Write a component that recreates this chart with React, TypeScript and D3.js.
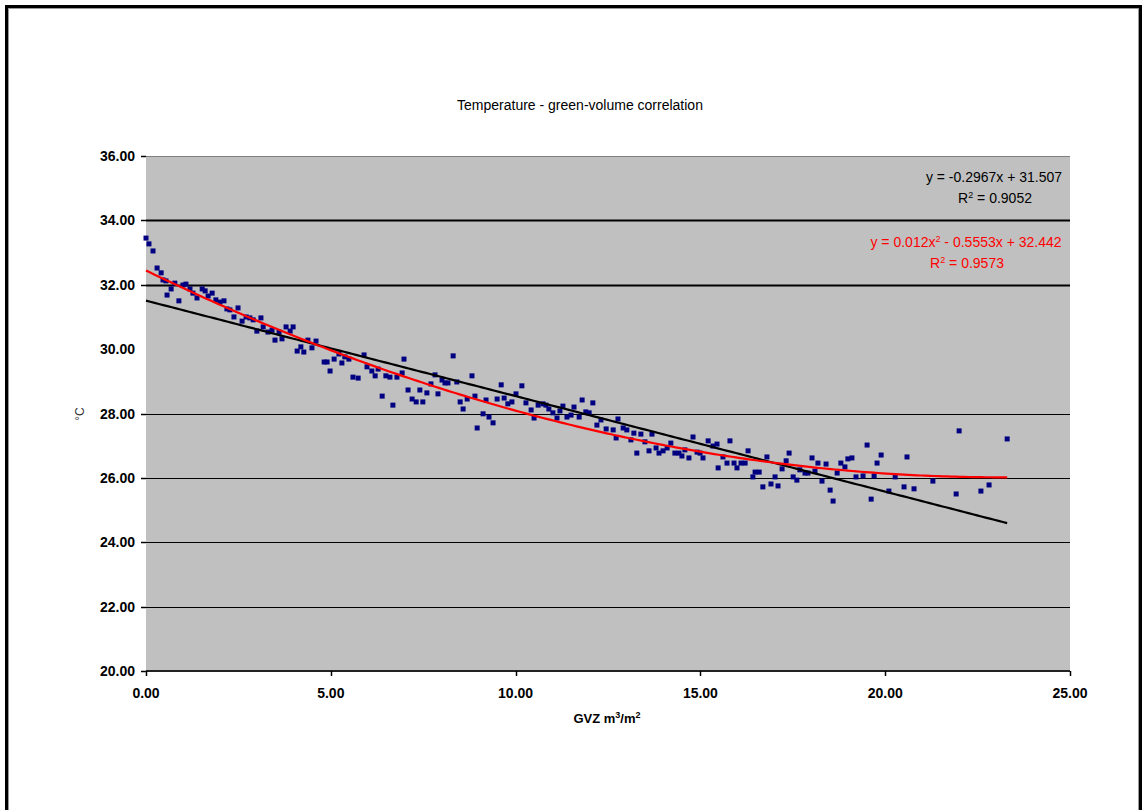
import React from "react";
import * as d3 from "d3";

const gvz: number[] = [
  0.0, 0.08, 0.19, 0.3, 0.41, 0.46, 0.54, 0.68, 0.57, 0.78, 0.89, 1.0, 1.08, 1.19, 1.27, 1.38, 1.52, 1.6, 1.68, 1.79,
  1.89, 2.0, 2.11, 2.19, 2.27, 2.38, 2.49, 2.6, 2.71, 2.81, 2.9, 3.0, 3.11, 3.17, 3.3, 3.41, 3.49, 3.6, 3.68, 3.79,
  3.9, 3.98, 4.09, 4.19, 4.27, 4.38, 4.49, 4.6, 4.82, 4.9, 4.98, 5.09, 5.22, 5.3, 5.38, 5.49, 5.6, 5.74,
  5.9, 5.98, 6.11, 6.2, 6.28, 6.39, 6.49, 6.6, 6.68, 6.79, 6.93, 6.98, 7.09, 7.2, 7.31, 7.41, 7.49, 7.6, 7.71, 7.82,
  7.9, 8.01, 8.09, 8.17, 8.31, 8.41, 8.5, 8.58, 8.69, 8.82, 8.9, 8.96, 9.12, 9.2, 9.28, 9.39, 9.5, 9.61, 9.69, 9.79,
  9.9, 10.01, 10.17, 10.28, 10.42, 10.5, 10.61, 10.74, 10.82, 10.9, 11.01, 11.12, 11.2, 11.28, 11.39, 11.5, 11.58,
  11.72, 11.8, 11.9, 11.99, 12.09, 12.2, 12.31, 12.45, 12.64, 12.72, 12.77, 12.91, 13.01, 13.12, 13.2, 13.28,
  13.39, 13.5, 13.61, 13.69, 13.8, 13.88, 13.99, 14.1, 14.2, 14.31, 14.42, 14.5, 14.58, 14.69, 14.8, 14.91, 14.99,
  15.07, 15.21, 15.34, 15.45, 15.48, 15.61, 15.72, 15.8, 15.91, 15.99, 16.1, 16.21, 16.29, 16.42, 16.48, 16.59,
  16.69, 16.8, 16.91, 17.02, 17.1, 17.21, 17.32, 17.4, 17.51, 17.61, 17.69, 17.83, 17.91, 18.02, 18.1, 18.18,
  18.29, 18.4, 18.51, 18.59, 18.7, 18.8, 18.91, 18.99, 19.1, 19.21,
  19.4, 19.51, 19.62, 19.7, 19.78, 19.89, 20.1, 20.27, 20.51, 20.59, 20.78, 21.29, 21.92, 22.0, 22.59, 22.81, 23.3,
];

const temperature: number[] = [
  33.45, 33.27, 33.05, 32.52, 32.37, 32.15, 32.12, 31.87, 31.68, 32.05, 31.5, 31.99, 32.02, 31.87, 31.74, 31.59, 31.87, 31.81, 31.65, 31.74,
  31.53, 31.46, 31.5, 31.25, 31.22, 31.0, 31.28, 30.87, 31.0, 30.97, 30.91, 30.56, 30.97, 30.69, 30.53, 30.59, 30.28, 30.53, 30.32, 30.69,
  30.56, 30.69, 29.94, 30.07, 29.91, 30.28, 30.04, 30.25, 29.6, 29.6, 29.32, 29.69, 29.85, 29.57, 29.76, 29.69, 29.13, 29.1,
  29.82, 29.45, 29.32, 29.17, 29.38, 28.54, 29.17, 29.13, 28.26, 29.13, 29.26, 29.69, 28.73, 28.45, 28.36, 28.73, 28.36, 28.64, 28.92, 29.2,
  28.61, 29.04, 28.95, 28.95, 29.79, 28.98, 28.36, 28.14, 28.45, 29.17, 28.54, 27.55, 27.99, 28.42, 27.89, 27.71, 28.45, 28.89, 28.48, 28.3,
  28.36, 28.61, 28.86, 28.33, 28.11, 27.86, 28.26, 28.3, 28.26, 28.14, 28.02, 27.86, 28.08, 28.23, 27.89, 27.95, 28.2,
  27.89, 28.42, 28.05, 28.02, 28.33, 27.64, 27.8, 27.52, 27.49, 27.24, 27.83, 27.55, 27.49, 27.18, 27.39, 26.77,
  27.36, 27.12, 26.84, 27.36, 26.93, 26.77, 26.84, 26.93, 27.08, 26.77, 26.77, 26.68, 26.87, 26.62, 27.27, 26.8, 26.77,
  26.62, 27.15, 26.99, 27.05, 26.31, 26.65, 26.46, 27.15, 26.46, 26.31, 26.46, 26.46, 26.84, 26.03, 26.18, 26.18,
  25.72, 26.65, 25.81, 26.03, 25.75, 26.28, 26.53, 26.77, 26.03, 25.93, 26.25, 26.15, 26.15, 26.62, 26.21, 26.46,
  25.9, 26.43, 25.62, 25.28, 26.15, 26.46, 26.34, 26.59, 26.62, 26.03,
  26.06, 27.02, 25.34, 26.06, 26.46, 26.71, 25.59, 26.03, 25.72, 26.65, 25.66, 25.9, 25.5, 27.46, 25.59, 25.78, 27.21,
];

const yTicks: number[] = [20, 22, 24, 26, 28, 30, 32, 34, 36];
const xTicks: number[] = [0, 5, 10, 15, 20, 25];
const linearCoef: number[] = [-0.2967, 31.507];
const polyCoef: number[] = [0.012, -0.5553, 32.442];

const titleText = "Temperature - green-volume correlation";
const linearLabel = "y = -0.2967x + 31.507";
const linearR2 = "0.9052";
const polyR2 = "0.9573";

export default function App() {
  const left = 146, right = 1070, top = 156, bottom = 671;
  const x = d3.scaleLinear().domain([0, 25]).range([left, right]);
  const y = d3.scaleLinear().domain([20, 36]).range([bottom, top]);
  const font = "'Liberation Sans', Arial, sans-serif";

  const xMax = d3.max(gvz) as number;
  const lin = (v: number) => linearCoef[0] * v + linearCoef[1];
  const poly = (v: number) => polyCoef[0] * v * v + polyCoef[1] * v + polyCoef[2];
  const samples = d3.range(0, 201).map((i) => (xMax * i) / 200);
  const line = d3
    .line<number>()
    .x((d) => x(d));
  const linPath = line.y((d) => y(lin(d)))(samples) as string;
  const polyPath = d3
    .line<number>()
    .x((d) => x(d))
    .y((d) => y(poly(d)))(samples) as string;

  const fmt = d3.format(".2f");

  return (
    <svg
      width={1143}
      height={810}
      style={{ position: "absolute", left: 0, top: 0, background: "#fff" }}
      fontFamily={font}
    >
      <rect x={0} y={0} width={1143} height={810} fill="#fff" />
      {/* outer frame */}
      <rect x={6.5} y={6.5} width={1134} height={900} fill="none" stroke="#000" strokeWidth={3} />
      <rect x={8.5} y={8.5} width={1130} height={900} fill="none" stroke="#999" strokeWidth={1} />

      <text x={580} y={110} textAnchor="middle" fontSize={14} fill="#000">
        {titleText}
      </text>

      {/* plot area */}
      <rect x={left} y={top} width={right - left} height={bottom - top} fill="#C0C0C0" />
      <line x1={left} x2={right} y1={top + 0.5} y2={top + 0.5} stroke="#808080" strokeWidth={1} />

      {yTicks
        .filter((t) => t !== 20 && t !== 36 && t !== 30)
        .map((t) => (
          <line
            key={"g" + t}
            x1={left}
            x2={right}
            y1={Math.round(y(t)) + 0.5}
            y2={Math.round(y(t)) + 0.5}
            stroke="#000"
            strokeWidth={t >= 32 ? 2 : 1}
          />
        ))}

      {/* axes */}
      <line x1={left} x2={right} y1={bottom} y2={bottom} stroke="#222" strokeWidth={2} />
      {yTicks
        .filter((t) => t !== 30)
        .map((t) => (
          <line key={"yt" + t} x1={left - 5} x2={left} y1={Math.round(y(t)) + 0.5} y2={Math.round(y(t)) + 0.5} stroke="#000" strokeWidth={1.5} />
        ))}
      {yTicks.map((t) => (
        <text
          key={"yl" + t}
          x={135}
          y={y(t)}
          dy="0.36em"
          textAnchor="end"
          fontSize={14}
          fontWeight="bold"
          fill="#000"
        >
          {fmt(t)}
        </text>
      ))}
      {xTicks.map((t) => (
        <line key={"xt" + t} x1={Math.round(x(t)) + 0.5} x2={Math.round(x(t)) + 0.5} y1={bottom} y2={bottom + 5} stroke="#000" strokeWidth={1.5} />
      ))}
      {xTicks.map((t) => (
        <text key={"xl" + t} x={x(t)} y={698} textAnchor="middle" fontSize={14} fontWeight="bold" fill="#000">
          {fmt(t)}
        </text>
      ))}

      <text x={607} y={723} textAnchor="middle" fontSize={13} fontWeight="bold" fill="#000">
        GVZ m<tspan dy={-5} fontSize={9}>3</tspan>
        <tspan dy={5}>/m</tspan>
        <tspan dy={-5} fontSize={9}>2</tspan>
      </text>
      <text
        transform="translate(84,414) rotate(-90)"
        textAnchor="middle"
        fontSize={12}
        fill="#333"
      >
        °C
      </text>

      {/* points */}
      {gvz.map((g, i) => (
        <rect
          key={"p" + i}
          x={x(g) - 2.5}
          y={y(temperature[i]) - 2.5}
          width={5}
          height={5}
          fill="#000080"
        />
      ))}

      {/* trend lines */}
      <path d={linPath} fill="none" stroke="#000" strokeWidth={2.2} />
      <path d={polyPath} fill="none" stroke="#FF0000" strokeWidth={2.2} />

      {/* equations */}
      <text x={994} y={182} textAnchor="middle" fontSize={14} fill="#000">
        {linearLabel}
      </text>
      <text x={995} y={203} textAnchor="middle" fontSize={14} fill="#000">
        R<tspan dy={-5} fontSize={9}>2</tspan>
        <tspan dy={5}>{" = " + linearR2}</tspan>
      </text>
      <text x={966} y={247} textAnchor="middle" fontSize={14} fill="#FF0000">
        {"y = " + polyCoef[0] + "x"}
        <tspan dy={-5} fontSize={9}>2</tspan>
        <tspan dy={5}>{" - " + Math.abs(polyCoef[1]) + "x + " + polyCoef[2]}</tspan>
      </text>
      <text x={967} y={268} textAnchor="middle" fontSize={14} fill="#FF0000">
        R<tspan dy={-5} fontSize={9}>2</tspan>
        <tspan dy={5}>{" = " + polyR2}</tspan>
      </text>
    </svg>
  );
}
